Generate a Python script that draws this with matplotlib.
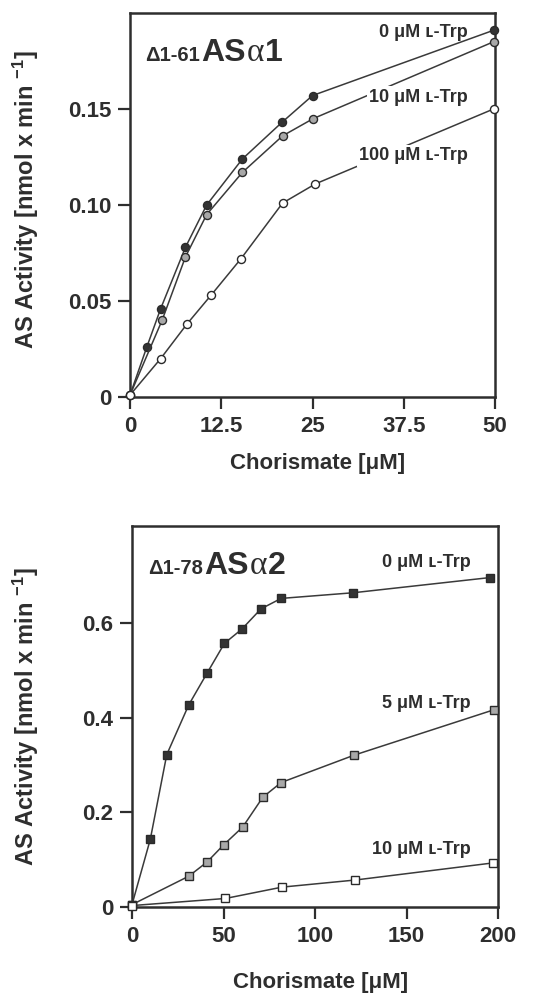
import matplotlib
matplotlib.use("Agg")
import matplotlib.pyplot as plt

# top panel: delta1-61 AS alpha1, chorismate 0-50 uM
top_x_0 = [0, 2.3, 4.2, 7.6, 10.5, 15.4, 20.8, 25.0, 49.8]
top_y_0 = [0.001, 0.026, 0.046, 0.078, 0.100, 0.124, 0.143, 0.157, 0.191]
top_x_10 = [0, 4.4, 7.6, 10.5, 15.4, 20.9, 25.1, 49.8]
top_y_10 = [0.001, 0.040, 0.073, 0.095, 0.117, 0.136, 0.145, 0.185]
top_x_100 = [0, 4.2, 7.8, 11.1, 15.2, 20.9, 25.4, 49.8]
top_y_100 = [0.001, 0.020, 0.038, 0.053, 0.072, 0.101, 0.111, 0.150]
top_xticks = [0, 12.5, 25, 37.5, 50]
top_xticklabels = ["0", "12.5", "25", "37.5", "50"]
top_yticks = [0, 0.05, 0.10, 0.15]
top_yticklabels = ["0", "0.05", "0.10", "0.15"]
top_labels = ["0 \u03bcM \u029f-Trp", "10 \u03bcM \u029f-Trp", "100 \u03bcM \u029f-Trp"]

# bottom panel: delta1-78 AS alpha2, chorismate 0-200 uM
bot_x_0 = [0, 10, 19, 31, 41, 50.5, 60, 70.5, 81.5, 121, 195.5]
bot_y_0 = [0.005, 0.143, 0.322, 0.427, 0.494, 0.557, 0.587, 0.630, 0.652, 0.664, 0.696]
bot_x_5 = [0, 31, 41, 50, 60.5, 71.5, 81.5, 121.5, 198]
bot_y_5 = [0.005, 0.065, 0.095, 0.131, 0.169, 0.232, 0.263, 0.321, 0.417]
bot_x_10 = [0, 51, 82, 122, 197]
bot_y_10 = [0.003, 0.018, 0.042, 0.057, 0.093]
bot_xticks = [0, 50, 100, 150, 200]
bot_yticks = [0, 0.2, 0.4, 0.6]
bot_yticklabels = ["0", "0.2", "0.4", "0.6"]
bot_labels = ["0 \u03bcM \u029f-Trp", "5 \u03bcM \u029f-Trp", "10 \u03bcM \u029f-Trp"]

xlabel = "Chorismate [\u03bcM]"
ylabel = "AS Activity [nmol x min $^{-1}$]"

INK = "#2e2e2e"
SANS = ["Liberation Sans", "DejaVu Sans"]
plt.rcParams["font.family"] = SANS
plt.rcParams["mathtext.fontset"] = "custom"
plt.rcParams["mathtext.rm"] = "Liberation Sans:bold"
plt.rcParams["mathtext.default"] = "rm"

W, H = 550, 996
fig = plt.figure(figsize=(W / 100, H / 100), dpi=100)


def px_axes(left, top, right, bottom):
    return fig.add_axes([left / W, 1 - bottom / H, (right - left) / W, (bottom - top) / H])


def style(ax):
    for s in ax.spines.values():
        s.set_linewidth(1.8)
        s.set_color(INK)
    ax.tick_params(direction="out", length=8.5, width=1.6, color=INK,
                   labelsize=16, labelcolor=INK, pad=5)
    for lab in ax.get_xticklabels() + ax.get_yticklabels():
        lab.set_fontweight("bold")


def series(ax, x, y, marker, face, ms):
    ax.plot(x, y, color="#3a3a3a", lw=1.1, marker=marker, ms=ms,
            mfc=face, mec="#2a2a2a", mew=1.0, clip_on=False, zorder=3)


def title(x, y, small, big, greek, num):
    # chain text pieces along one baseline, measuring each piece
    r = fig.canvas.get_renderer()
    parts = [(small, 14.5, "bold", SANS), (big, 23, "bold", SANS),
             (greek, 24, "normal", ["Liberation Serif", "DejaVu Serif"]),
             (num, 23, "bold", SANS)]
    cx = x
    for txt, size, weight, fam in parts:
        t = fig.text(cx / W, 1 - y / H, txt, fontsize=size, fontweight=weight,
                     family=fam, color=INK, va="baseline", ha="left")
        bb = t.get_window_extent(renderer=r)
        cx += bb.width + 1


# ---- top panel
ax1 = px_axes(130, 13, 495, 397)
series(ax1, top_x_0, top_y_0, "o", "#333333", 5.8)
series(ax1, top_x_10, top_y_10, "o", "#a8a8a8", 5.8)
series(ax1, top_x_100, top_y_100, "o", "white", 5.8)
ax1.set_xlim(0, 50)
ax1.set_ylim(0, 0.2)
ax1.set_xticks(top_xticks, top_xticklabels)
ax1.set_yticks(top_yticks, top_yticklabels)
style(ax1)
ax1.set_xlabel(xlabel, fontsize=16, fontweight="bold", color=INK)
ax1.set_ylabel(ylabel, fontsize=17, fontweight="bold", color=INK)
ax1.xaxis.set_label_coords(0.515, -0.172)
ax1.yaxis.set_label_coords(-0.285, 0.513)
ax1.xaxis.label.set_va("center")
ax1.yaxis.label.set_va("center")
for lab, yy, box in zip(top_labels, [0.948, 0.781, 0.628], [False, True, True]):
    kw = dict(bbox=dict(facecolor="white", edgecolor="none", pad=1.5)) if box else {}
    ax1.text(0.926, yy, lab, transform=ax1.transAxes, ha="right", va="center",
             fontsize=13, fontweight="bold", color=INK, zorder=5, **kw)

# ---- bottom panel
ax2 = px_axes(132, 526, 498, 907)
series(ax2, bot_x_0, bot_y_0, "s", "#333333", 6)
series(ax2, bot_x_5, bot_y_5, "s", "#a8a8a8", 6)
series(ax2, bot_x_10, bot_y_10, "s", "white", 6)
ax2.set_xlim(0, 200)
ax2.set_ylim(0, 0.805)
ax2.set_xticks(bot_xticks)
ax2.set_yticks(bot_yticks, bot_yticklabels)
style(ax2)
ax2.set_xlabel(xlabel, fontsize=16, fontweight="bold", color=INK)
ax2.set_ylabel(ylabel, fontsize=17, fontweight="bold", color=INK)
ax2.xaxis.set_label_coords(0.514, -0.197)
ax2.yaxis.set_label_coords(-0.29, 0.499)
ax2.xaxis.label.set_va("center")
ax2.yaxis.label.set_va("center")
for lab, yy in zip(bot_labels, [0.903, 0.535, 0.152]):
    ax2.text(0.926, yy, lab, transform=ax2.transAxes, ha="right", va="center",
             fontsize=13, fontweight="bold", color=INK, zorder=5)

title(145, 61, "\u03941-61", "AS", "\u03b1", "1")
title(148, 574, "\u03941-78", "AS", "\u03b1", "2")

fig.savefig("out.png", dpi=100, facecolor="white")
